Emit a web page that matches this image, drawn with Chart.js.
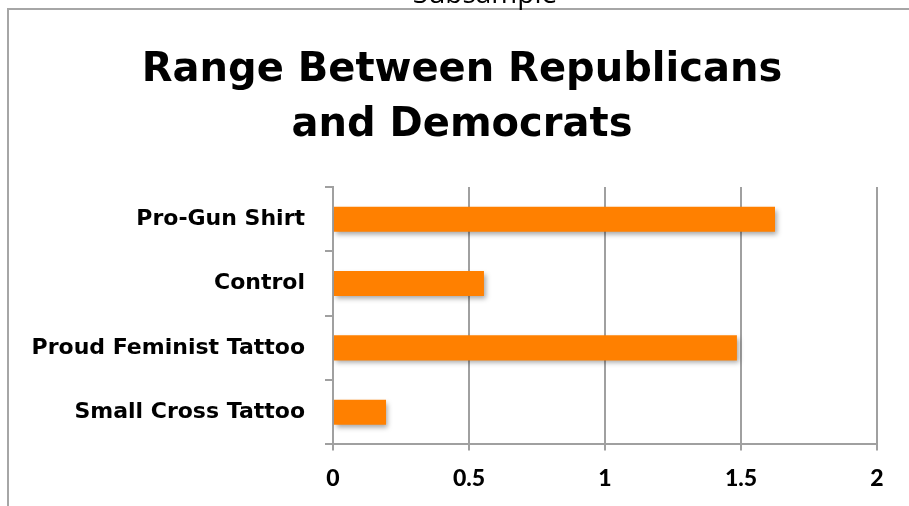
<!DOCTYPE html>
<html>
<head>
<meta charset="utf-8">
<script src="https://cdn.jsdelivr.net/npm/chart.js@4"></script>
<style>
  html, body { margin: 0; padding: 0; background: #fff; }
  #wrap { width: 909px; height: 506px; position: relative; }
</style>
</head>
<body>
<div id="wrap"><canvas id="barChart" width="909" height="506"></canvas></div>
<script>
const categories = ['Pro-Gun Shirt', 'Control', 'Proud Feminist Tattoo', 'Small Cross Tattoo'];
const rangeValues = [1.625, 0.555, 1.485, 0.195];
const xTicks = [0, 0.5, 1, 1.5, 2];

const chartTitle = ['Range Between Republicans', 'and Democrats'];
const topCaption = 'Subsample';

// frame lines and the cut-off caption above the box
const framePlugin = {
    id: 'frame',
    afterLayout(chart) {
        // let the long category label run left of the padded area
        chart.scales.y.left = 10;
    },
    beforeDraw(chart) {
        const c = chart.ctx;
        c.save();
        c.strokeStyle = '#a6a6a6';
        c.lineWidth = 2;
        c.beginPath();
        c.moveTo(8, 506);
        c.lineTo(8, 9);
        c.lineTo(909, 9);
        c.stroke();
        c.fillStyle = '#000';
        c.font = '28px "Open Sans"';
        c.textAlign = 'center';
        c.textBaseline = 'alphabetic';
        c.fillText(topCaption, 485, 3);
        c.restore();
    }
};

// soft drop shadow under the bars
const shadowPlugin = {
    id: 'barShadow',
    beforeDatasetsDraw(chart) {
        const c = chart.ctx;
        c.save();
        c.shadowColor = 'rgba(0,0,0,0.35)';
        c.shadowBlur = 5;
        c.shadowOffsetX = 2;
        c.shadowOffsetY = 3;
    },
    afterDatasetsDraw(chart) {
        chart.ctx.restore();
    }
};

var barChart = document.getElementById('barChart').getContext('2d');

var newChart = new Chart(barChart, {
    type: 'bar',
    data: {
        labels: categories,
        datasets: [{
            data: rangeValues,
            backgroundColor: '#ff8000',
            borderWidth: 0,
            barPercentage: 0.39,
            categoryPercentage: 1
        }]
    },
    options: {
        indexAxis: 'y',
        responsive: false,
        animation: false,
        layout: {
            padding: { left: 47, right: 32, top: 0, bottom: 0 }
        },
        scales: {
            x: {
                min: 0,
                max: 2,
                afterBuildTicks(scale) {
                    scale.ticks = xTicks.map(v => ({ value: v }));
                },
                grid: {
                    color: '#a0a0a0',
                    lineWidth: 2,
                    tickLength: 6
                },
                border: { color: '#a0a0a0', width: 2 },
                ticks: {
                    color: '#000',
                    padding: 14,
                    callback: v => String(v),
                    font: { family: 'Lato', size: 23, weight: '900' }
                }
            },
            y: {
                afterFit(scale) { scale.width = 286; },
                grid: {
                    drawOnChartArea: false,
                    color: '#a0a0a0',
                    lineWidth: 2,
                    tickLength: 8
                },
                border: { color: '#a0a0a0', width: 2 },
                ticks: {
                    color: '#000',
                    padding: 20,
                    font: { family: 'DejaVu Sans', size: 22, weight: 'bold', lineHeight: 1.0 }
                }
            }
        },
        plugins: {
            legend: { display: false },
            tooltip: { enabled: false },
            title: {
                display: true,
                text: chartTitle,
                color: '#000',
                font: { family: 'DejaVu Sans', size: 40, weight: 'bold', lineHeight: 1.375 },
                padding: { top: 43, bottom: 34 }
            }
        }
    },
    plugins: [framePlugin, shadowPlugin]
});
</script>
</body>
</html>
